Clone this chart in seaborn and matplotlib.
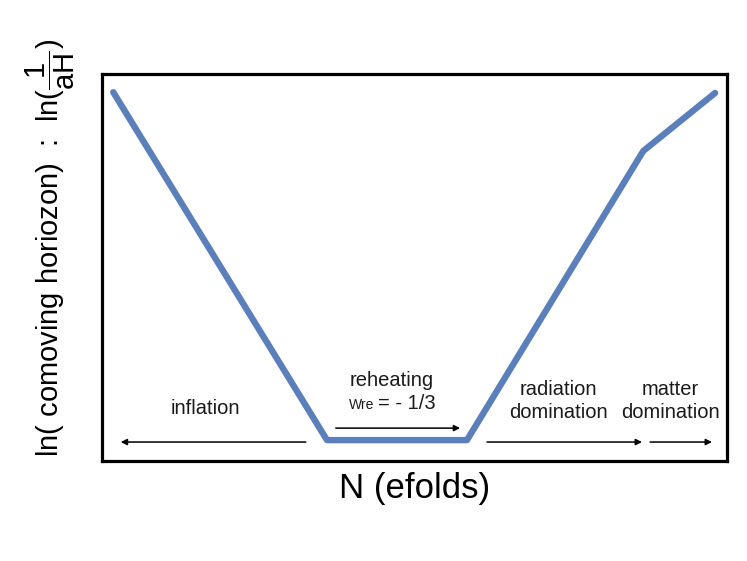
import matplotlib
matplotlib.use("Agg")
import matplotlib.pyplot as plt
import seaborn as sns
import pandas as pd

# horizon curve (axes span 0-100 both ways)
efolds = [1.8, 36.0, 58.4, 86.6, 98.1]
horizon = [95.3, 5.4, 5.4, 80.1, 95.1]

# era labels: (text, x, y)
era_labels = [
    ("inflation", 16.6, 12.1),
    ("reheating", 46.4, 19.4),
    ("radiation", 73.0, 17.1),
    ("domination", 73.0, 11.1),
    ("matter", 91.0, 17.1),
    ("domination", 91.0, 11.1),
]
# arrows: (x_start, x_end, y)
era_arrows = [
    (32.6, 3.0, 4.9),
    (37.4, 57.3, 8.5),
    (61.6, 86.4, 4.9),
    (87.7, 97.6, 4.9),
]

sns.set_style("white")
plt.rcParams["font.family"] = ["Liberation Sans", "DejaVu Sans"]
plt.rcParams["mathtext.fontset"] = "custom"
plt.rcParams["mathtext.rm"] = "Liberation Sans"
plt.rcParams["mathtext.it"] = "Liberation Sans"

df = pd.DataFrame({"N": efolds, "lnH": horizon})

fig = plt.figure(figsize=(7.47, 5.61), dpi=100)
ax = fig.add_axes([102 / 747, 1 - 461 / 561, 625 / 747, 387 / 561])

sns.lineplot(data=df, x="N", y="lnH", sort=False, color="#5B7FBA",
             linewidth=4.6, ax=ax)
ax.set_xlim(0, 100)
ax.set_ylim(0, 100)
ax.set_xticks([])
ax.set_yticks([])
ax.set_ylabel("")
ax.set_xlabel("N (efolds)", fontsize=25, labelpad=8, color="black")
for s in ax.spines.values():
    s.set_color("black")
    s.set_linewidth(2.3)

for txt, x, y in era_labels:
    ax.text(x, y, txt, fontsize=14.5, ha="center", va="baseline", color="#1a1a1a")
ax.text(43.6, 13.4, "Wre", fontsize=10, ha="right", va="baseline", color="#1a1a1a")
ax.text(44.1, 13.4, "= - 1/3", fontsize=14.5, ha="left", va="baseline", color="#1a1a1a")

for x0, x1, y in era_arrows:
    ax.annotate("", xy=(x1, y), xytext=(x0, y),
                arrowprops=dict(arrowstyle="-|>", color="black", lw=1.1,
                                mutation_scale=9, shrinkA=0, shrinkB=0))

fig.text(50 / 747, 1 - 248 / 561,
         r"ln( comoving horiozon)  :  ln($\dfrac{\mathrm{1}}{\mathrm{aH}}$)",
         rotation=90, ha="center", va="center", fontsize=21, color="black")

fig.savefig("out.png", dpi=100)
